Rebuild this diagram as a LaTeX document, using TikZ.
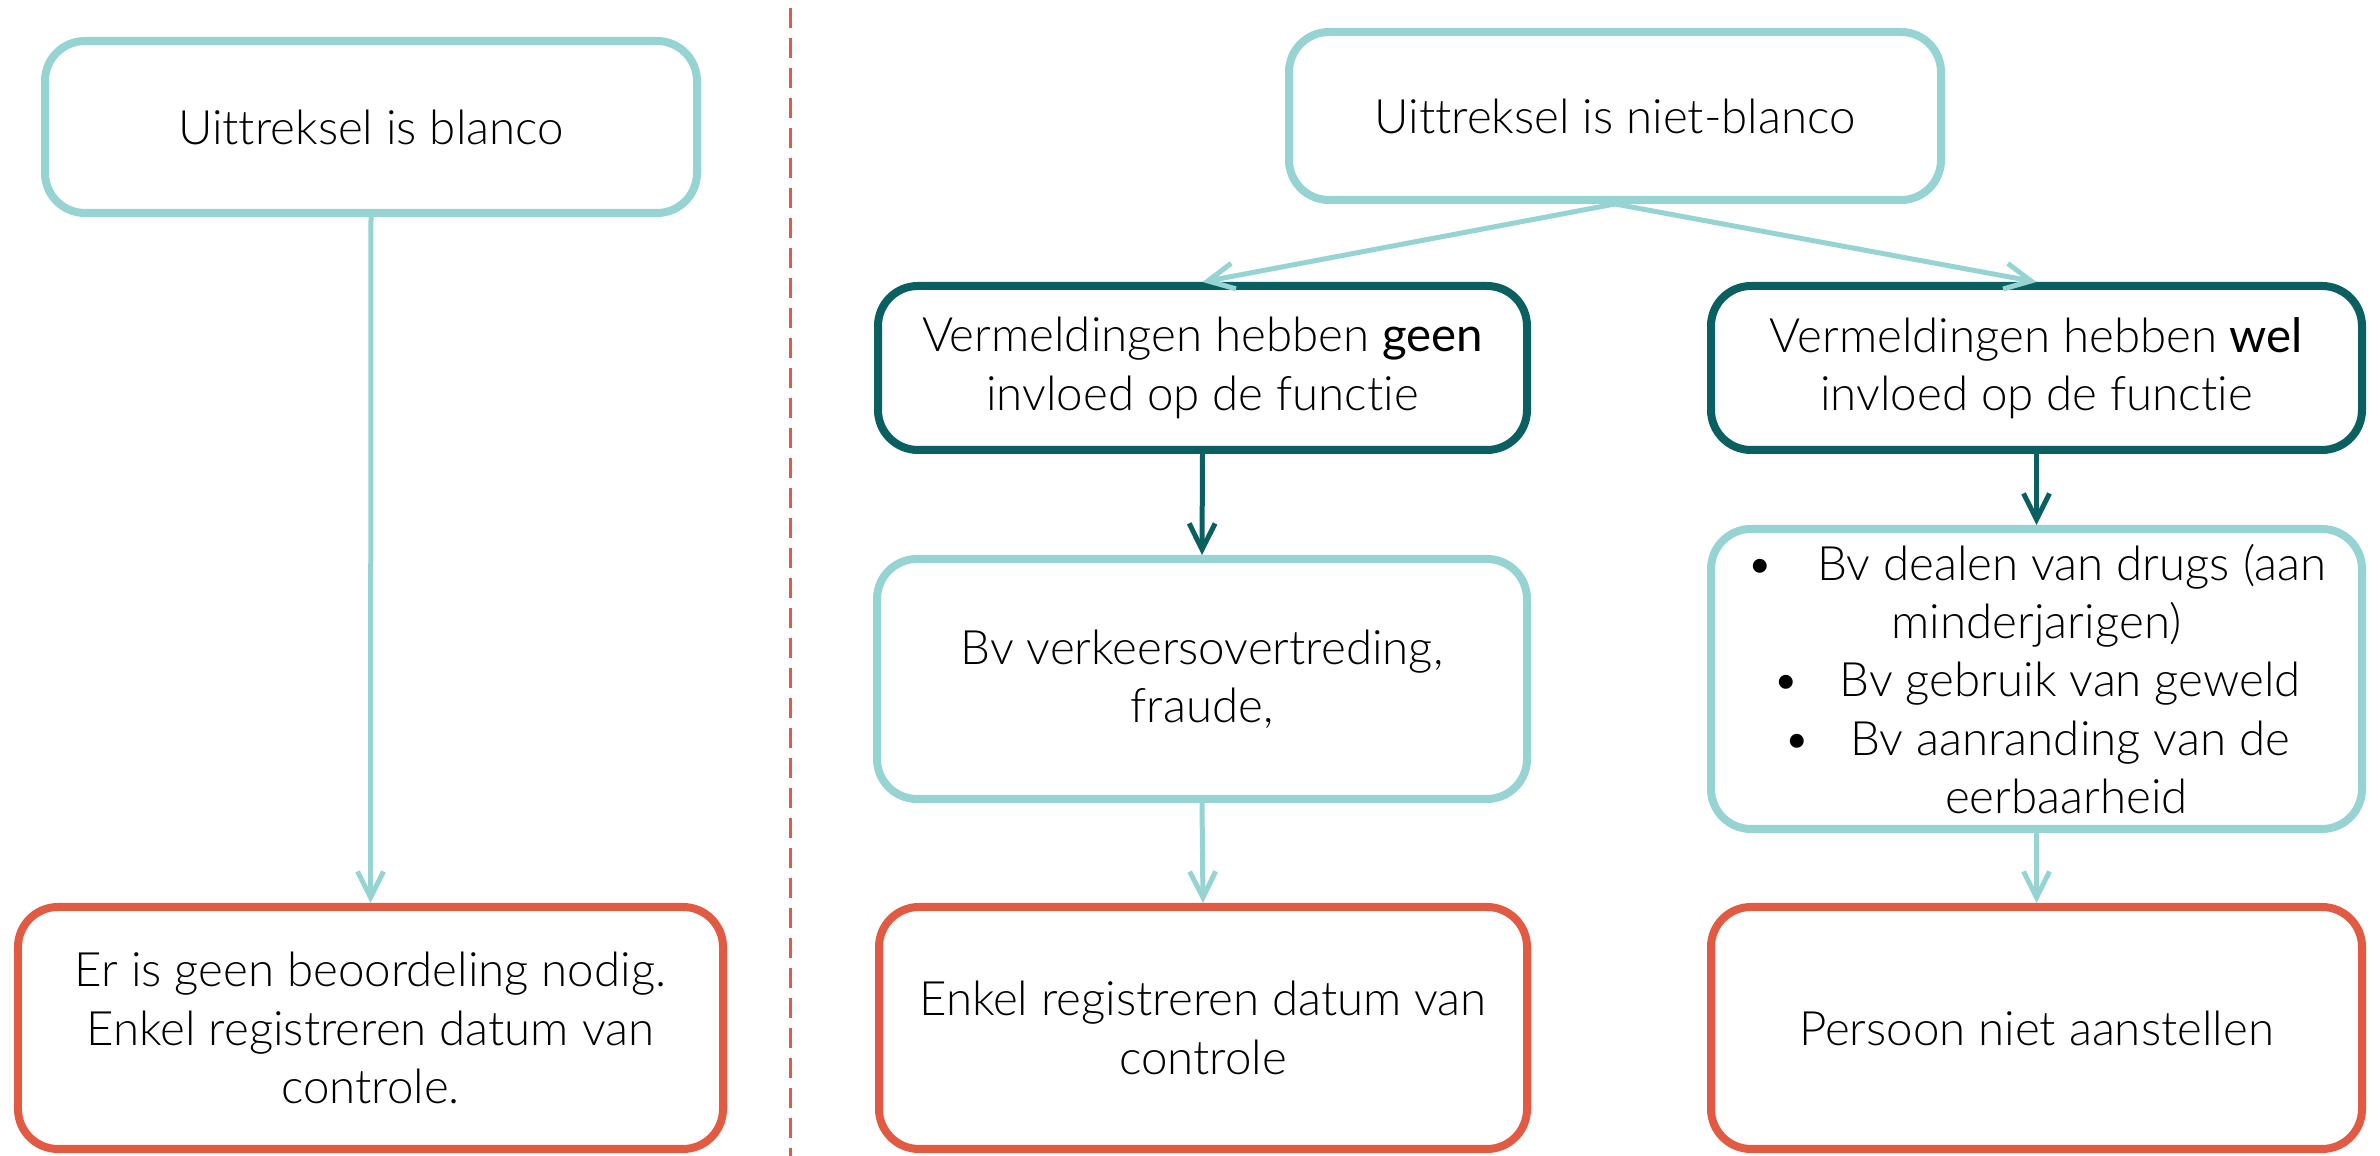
\documentclass[tikz,border=0pt]{standalone}
\usepackage{fontspec}
\setmainfont{Lato Light}[Ligatures={NoCommon}]
\newfontfamily\regfont{Lato}[Ligatures={NoCommon}]
\usetikzlibrary{arrows.meta}
\definecolor{lteal}{RGB}{150,211,211}
\definecolor{dteal}{RGB}{10,96,96}
\definecolor{redc}{RGB}{227,90,66}
\tikzset{
  box/.style={rounded corners=4mm, line width=0.8mm, fill=white, align=center,
    inner sep=0pt, text=black, font=\fontsize{13.5pt}{16.6pt}\selectfont},
  lightbox/.style={box, draw=lteal},
  darkbox/.style={box, draw=dteal},
  redbox/.style={box, draw=redc},
  arr/.style={line width=0.5mm, -{Straight Barb[length=2.6mm,width=2.6mm]}},
  larr/.style={arr, draw=lteal},
  darr/.style={arr, draw=dteal},
  divider/.style={draw=redc, line width=0.3mm, dash pattern=on 2mm off 1mm}
}
\begin{document}
\begin{tikzpicture}
\useasboundingbox (0,0) rectangle (23.80,-11.56);
% divider
\coordinate (divtop) at (7.90,-0.08);
\coordinate (divbot) at (7.90,-11.56);
\draw[divider] (divtop) -- (divbot);
% left column
\node[lightbox, minimum width=6.52cm, minimum height=1.72cm] (A) at (3.71,-1.27) {Uittreksel is blanco};
\node[redbox, minimum width=7.05cm, minimum height=2.42cm] (B) at (3.705,-10.28)
  {Er is geen beoordeling nodig.\\Enkel registreren datum van\\controle.};
% right part
\node[lightbox, minimum width=6.52cm, minimum height=1.68cm] (C) at (16.15,-1.16) {Uittreksel is niet-blanco};
\node[darkbox, minimum width=6.49cm, minimum height=1.64cm] (D) at (12.025,-3.68)
  {Vermeldingen hebben {\regfont geen}\\invloed op de functie};
\node[darkbox, minimum width=6.51cm, minimum height=1.64cm] (E) at (20.365,-3.68)
  {Vermeldingen hebben {\regfont wel}\\invloed op de functie};
\node[lightbox, minimum width=6.50cm, minimum height=2.40cm] (F) at (12.02,-6.79)
  {Bv verkeersovertreding,\\fraude,};
\node[lightbox, minimum width=6.51cm, minimum height=3.00cm] (G) at (20.365,-6.79)
  {\textbullet\hspace{4.3mm}Bv dealen van drugs (aan\\
   minderjarigen)\\
   \textbullet\hspace{4mm}Bv gebruik van geweld\\
   \textbullet\hspace{4mm}Bv aanranding van de\\
   \hspace*{6mm}eerbaarheid};
\node[redbox, minimum width=6.48cm, minimum height=2.42cm] (H) at (12.03,-10.28)
  {Enkel registreren datum van\\controle};
\node[redbox, minimum width=6.51cm, minimum height=2.42cm] (I) at (20.365,-10.28)
  {Persoon niet aanstellen};
% connectors
\draw[larr] (A.south) -- (B.north);
\draw[larr] (C.south) -- (D.north);
\draw[larr] (C.south) -- (E.north);
\draw[darr] (D.south) -- (F.north);
\draw[darr] (E.south) -- (G.north);
\draw[larr] (F.south) -- (H.north);
\draw[larr] (G.south) -- (I.north);
\end{tikzpicture}
\end{document}
